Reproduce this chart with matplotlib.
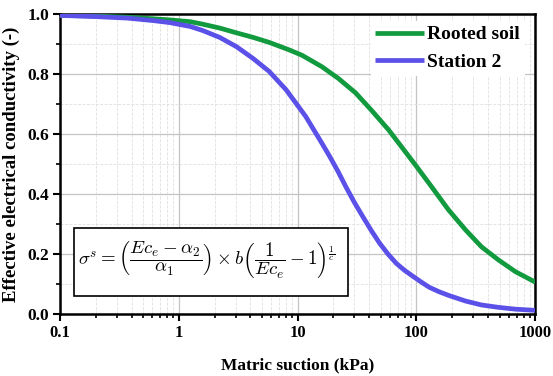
import numpy as np
import matplotlib.pyplot as plt
from matplotlib.ticker import LogLocator, MultipleLocator
from matplotlib.patches import Rectangle

# values
rooted_x = [0.1, 0.2, 0.37, 0.6, 0.84, 1.25, 1.58, 2.2, 3.05, 4.2, 5.77, 8.5,
            10.9, 16, 22, 30.7, 42, 58.4, 71, 98.6, 134, 186, 259, 352, 490,
            680, 1000]
rooted_y = [0.995, 0.993, 0.989, 0.984, 0.980, 0.974, 0.966, 0.953, 0.937,
            0.922, 0.905, 0.880, 0.862, 0.824, 0.785, 0.737, 0.678, 0.613,
            0.569, 0.495, 0.424, 0.347, 0.280, 0.224, 0.180, 0.141, 0.106]

station2_x = [0.1, 0.2, 0.37, 0.6, 0.84, 1.25, 1.58, 2.2, 3.05, 4.2, 5.77, 8.0,
              11.7, 16, 18.6, 21.8, 25.6, 30, 35.4, 41.5, 48.9, 57.5, 67.5, 79,
              93, 110, 128, 155, 186, 259, 352, 490, 680, 1000]
station2_y = [0.995, 0.991, 0.986, 0.978, 0.971, 0.958, 0.945, 0.922, 0.891,
              0.852, 0.808, 0.747, 0.658, 0.569, 0.525, 0.476, 0.422, 0.372,
              0.324, 0.279, 0.236, 0.200, 0.169, 0.146, 0.126, 0.106, 0.089,
              0.074, 0.062, 0.043, 0.030, 0.022, 0.016, 0.012]

tick_vals = [0.1, 1, 10, 100, 1000]
tick_labels = ['0.1', '1', '10', '100', '1000']

plt.rcParams['font.family'] = ['Liberation Serif', 'DejaVu Serif']
plt.rcParams['mathtext.fontset'] = 'cm'

fig, ax = plt.subplots(figsize=(5.53, 3.76), dpi=100)
fig.subplots_adjust(left=0.1085, right=0.968, top=0.963, bottom=0.165)

ax.plot(rooted_x, rooted_y, color='#129a3e', lw=3.4, label='Rooted soil',
        zorder=3, solid_capstyle='butt')
ax.plot(station2_x, station2_y, color='#5b50e8', lw=3.4, label='Station 2',
        zorder=3, solid_capstyle='butt')

ax.set_xscale('log')
ax.set_xlim(0.1, 1000)
ax.set_ylim(0, 1)
ax.set_xticks(tick_vals)
ax.set_xticklabels(tick_labels)
ax.xaxis.set_minor_locator(LogLocator(base=10, subs=np.arange(2, 10), numticks=20))
ax.yaxis.set_major_locator(MultipleLocator(0.2))
ax.yaxis.set_minor_locator(MultipleLocator(0.1))
ax.yaxis.set_major_formatter(plt.FormatStrFormatter('%.1f'))

ax.grid(which='major', color='#c4c4c4', lw=0.9)
ax.grid(which='minor', color='#e0e0e0', lw=0.6, ls='--')

for s in ax.spines.values():
    s.set_linewidth(1.8)
ax.tick_params(which='major', direction='out', length=5, width=1.5,
               labelsize=12.5, pad=3)
ax.tick_params(which='minor', direction='out', length=3, width=1.2)
ax.tick_params(axis='x', which='major', labelsize=12)
for lab in ax.get_xticklabels() + ax.get_yticklabels():
    lab.set_fontweight('bold')

ax.set_xlabel('Matric suction (kPa)', fontsize=12.5, fontweight='bold', labelpad=12)
ax.set_ylabel('Effective electrical conductivity (-)', fontsize=13.5,
              fontweight='bold', labelpad=5)

leg = ax.legend(loc='upper right', bbox_to_anchor=(1.0, 1.012), frameon=True,
                fancybox=False, handlelength=2.5, handletextpad=0.15,
                borderpad=0.25, labelspacing=0.5, borderaxespad=0.55,
                prop={'weight': 'bold', 'size': 14})
leg.get_frame().set_edgecolor('none')
leg.get_frame().set_alpha(1)

# equation box
ax.add_patch(Rectangle((0.029, 0.06), 0.576, 0.227, transform=ax.transAxes,
                       fc='white', ec='black', lw=1.2, zorder=4))
ax.text(0.038, 0.18,
        r'$\sigma^{s}=\left(\dfrac{Ec_{e}-\alpha_{2}}{\alpha_{1}}\right)\times b\left(\dfrac{1}{Ec_{e}}-1\right)^{\frac{1}{c}}$',
        transform=ax.transAxes, fontsize=13.6, va='center', ha='left',
        zorder=5)

fig.savefig('out.png', dpi=100)
